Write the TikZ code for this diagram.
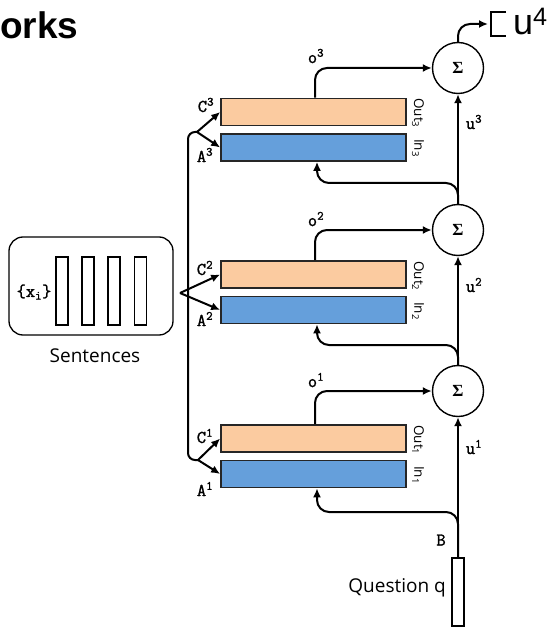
\documentclass[tikz,border=0pt]{standalone}
\usepackage{fontspec}
\setmainfont{Open Sans}
\newfontfamily\headfont{Liberation Sans}
\newfontfamily\sigfont{Liberation Serif}
\newfontfamily\labtt{Latin Modern Mono}[FakeBold=1.4]
\usetikzlibrary{arrows.meta}

\definecolor{peach}{RGB}{251,203,160}
\definecolor{memblue}{RGB}{101,159,219}

\tikzset{
	mem/.style={draw=black!85, line width=1.7pt, minimum width=185pt, minimum height=27pt, inner sep=0pt},
	memC/.style={mem, fill=peach},
	memA/.style={mem, fill=memblue},
	sumnode/.style={circle, draw, line width=1.4pt, minimum size=51pt, inner sep=0pt, font=\sigfont\bfseries\fontsize{17}{17}\selectfont},
	tt/.style={font=\labtt\fontsize{18}{18}\selectfont, inner sep=0pt},
	side/.style={rotate=-90, font=\fontsize{13.5}{13.5}\selectfont, inner sep=0pt},
	flow/.style={line width=2pt, -{Latex[length=9pt,width=8pt]}},
	sent/.style={draw, line width=1.3pt, minimum width=12pt, minimum height=68pt, inner sep=0pt}
}

\begin{document}
\begin{tikzpicture}[x=1pt,y=-1pt]
\useasboundingbox (0,0) rectangle (557,636);

	\node[anchor=base west, inner sep=0pt, font=\headfont\bfseries\fontsize{37}{37}\selectfont] (title) at (0,39) {orks};

% sentences
	\node[draw, line width=1.3pt, rounded corners=14pt, minimum width=164pt, minimum height=98pt] (sentbox) at (91,286) {};
	\node[sent] (s1) at (62,291) {};
	\node[sent] (s2) at (88,291) {};
	\node[sent] (s3) at (114,291) {};
	\node[sent] (s4) at (140.5,291) {};
	\node[tt] (xi) at (34,292) {\{x\textsubscript{i}\}};
	\node[font=\fontsize{19}{19}\selectfont, inner sep=0pt] (sentlbl) at (95,356) {Sentences};

% memory slots
	\node[memC] (c3) at (313.5,112) {};
	\node[memA] (a3) at (313.5,147.5) {};
	\node[memC] (c2) at (313.5,274.5) {};
	\node[memA] (a2) at (313.5,310) {};
	\node[memC] (c1) at (313.5,438.5) {};
	\node[memA] (a1) at (313.5,474) {};

	\node[side] (out3) at (418,113) {Out\textsubscript{3}};
	\node[side] (in3) at (418,148) {In\textsubscript{3}};
	\node[side] (out2) at (418,276) {Out\textsubscript{2}};
	\node[side] (in2) at (418,311) {In\textsubscript{2}};
	\node[side] (out1) at (418,440) {Out\textsubscript{1}};
	\node[side] (in1) at (418,475) {In\textsubscript{1}};

	\node[tt] (lc3) at (206,105) {C\textsuperscript{3}};
	\node[tt] (la3) at (205,155) {A\textsuperscript{3}};
	\node[tt] (lc2) at (205,268) {C\textsuperscript{2}};
	\node[tt] (la2) at (205,319) {A\textsuperscript{2}};
	\node[tt] (lc1) at (205,436) {C\textsuperscript{1}};
	\node[tt] (la1) at (205,489) {A\textsuperscript{1}};

% sums
	\node[sumnode] (sig3) at (458,68) {Σ};
	\node[sumnode] (sig2) at (458,230) {Σ};
	\node[sumnode] (sig1) at (458,391) {Σ};

	\node[tt] (lo3) at (316,56) {o\textsuperscript{3}};
	\node[tt] (lo2) at (316,219) {o\textsuperscript{2}};
	\node[tt] (lo1) at (316,380) {o\textsuperscript{1}};
	\node[tt] (lu3) at (474,122) {u\textsuperscript{3}};
	\node[tt] (lu2) at (474,285) {u\textsuperscript{2}};
	\node[tt] (lu1) at (474,447) {u\textsuperscript{1}};

% question
	\node[draw, line width=1.4pt, minimum width=12pt, minimum height=68pt, inner sep=0pt] (q) at (458,592) {};
	\node[anchor=east, font=\fontsize{19}{19}\selectfont, inner sep=0pt] (qlbl) at (446,588) {Question q};
	\node[tt] (lb) at (441,540) {B};

% output
	\coordinate (outtip) at (488,24);
	\draw[line width=1.2pt] (506,12) -- (491,12) -- (491,36) -- (506,36);
	\node[anchor=base west, inner sep=0pt, font=\headfont\fontsize{36}{36}\selectfont] (u4) at (513,35) {u\textsuperscript{4}};

% links
	\coordinate (f3) at (197,132);
	\coordinate (f2) at (180,293);
	\coordinate (f1) at (198,460);
	\coordinate (spine) at (188,0);
	\coordinate (otap) at (315,0);
	\coordinate (itap) at (317,0);

	\draw[line width=2pt, rounded corners=7pt] (f3) -- (f3 -| spine) -- (f1 -| spine) -- (f1);
	\draw[flow] (f3) -- (c3.west);
	\draw[flow] (f3) -- (a3.west);
	\draw[flow] (f2) -- (c2.west);
	\draw[flow] (f2) -- (a2.west);
	\draw[flow] (f1) -- (c1.west);
	\draw[flow] (f1) -- (a1.west);

	\draw[flow] (q.north) -- (sig1.south);
	\draw[flow] (sig1.north) -- (sig2.south);
	\draw[flow] (sig2.north) -- (sig3.south);
	\draw[flow, rounded corners=12pt] (sig3.north) |- (outtip);

	\draw[flow, rounded corners=12pt] (c3.north -| otap) |- (sig3.west);
	\draw[flow, rounded corners=12pt] (c2.north -| otap) |- (sig2.west);
	\draw[flow, rounded corners=12pt] (c1.north -| otap) |- (sig1.west);

	\draw[flow, rounded corners=12pt] (sig2.north) |- (itap |- 0,183) -- (a3.south -| itap);
	\draw[flow, rounded corners=12pt] (sig1.north) |- (itap |- 0,345) -- (a2.south -| itap);
	\draw[flow, rounded corners=12pt] (q.north) |- (itap |- 0,512) -- (a1.south -| itap);

\end{tikzpicture}
\end{document}
